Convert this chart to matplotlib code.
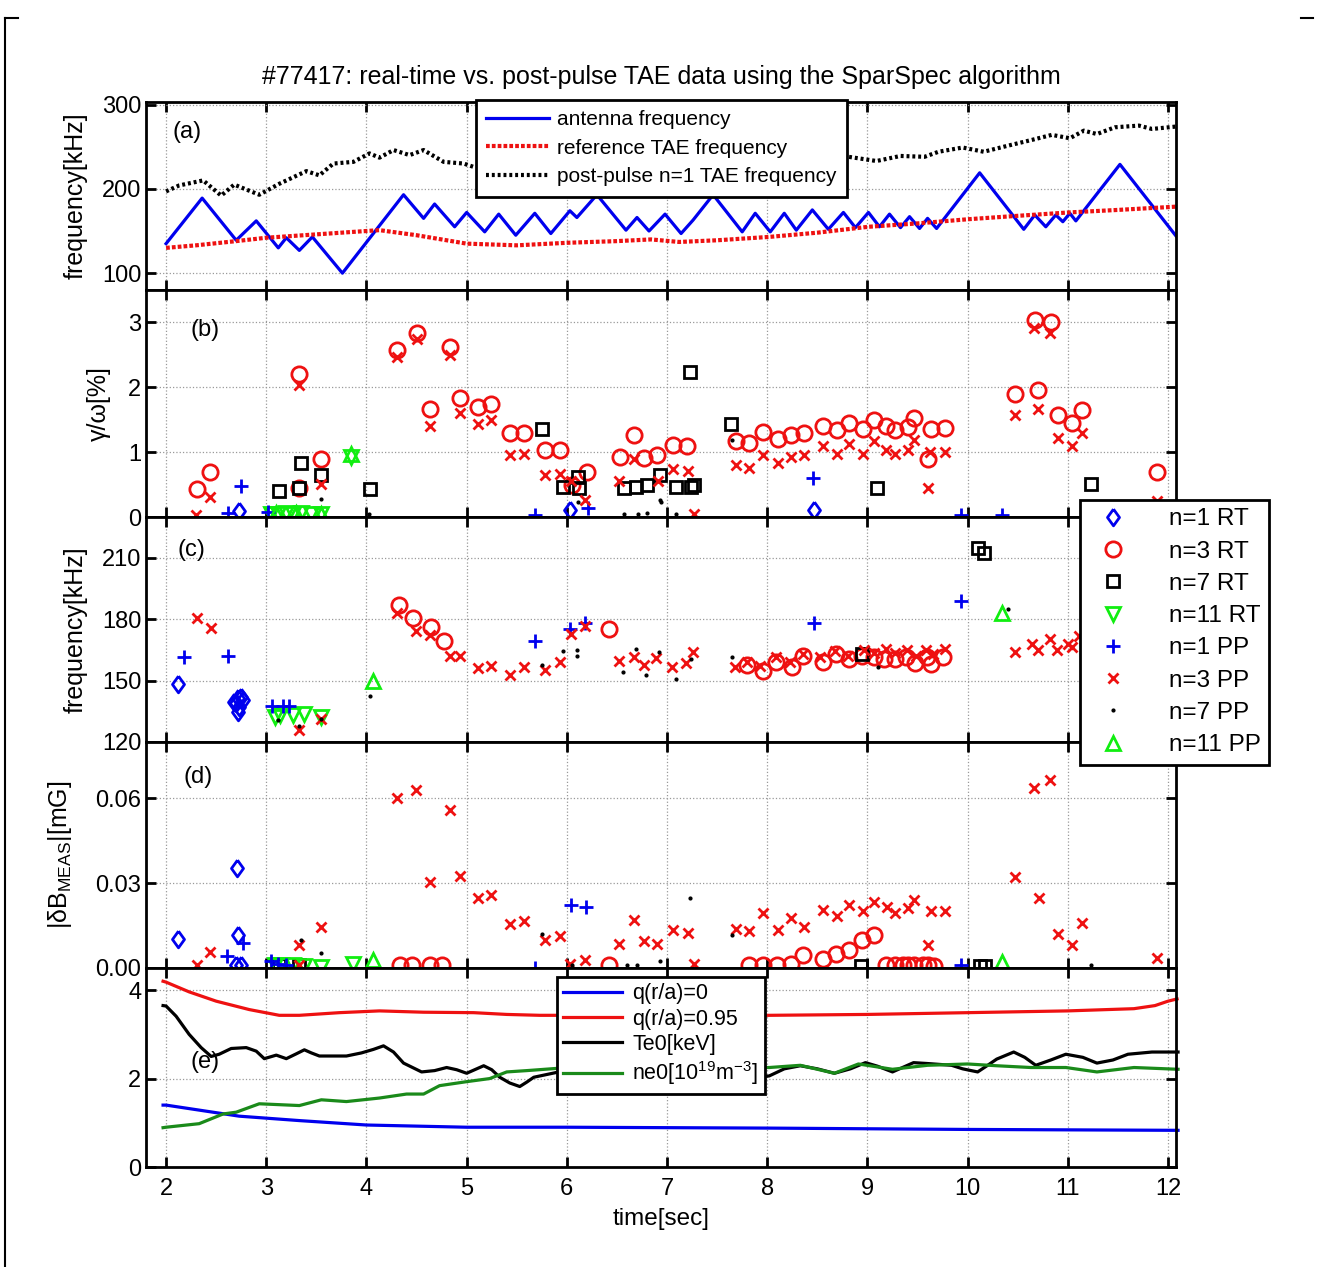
import matplotlib
matplotlib.use("Agg")
import matplotlib.pyplot as plt
from matplotlib.lines import Line2D

plt.rcParams["font.family"] = ["Liberation Sans", "DejaVu Sans"]
plt.rcParams["mathtext.fontset"] = "custom"
plt.rcParams["mathtext.rm"] = "Liberation Sans"
plt.rcParams["mathtext.it"] = "Liberation Sans:italic"

# ---------------- panel (a): frequencies [kHz] ----------------
ant_t = [2.0, 2.36, 2.70, 2.90, 3.12, 3.20, 3.33, 3.46, 3.76, 4.37, 4.57, 4.68, 4.88,
         5.0, 5.18, 5.32, 5.49, 5.68, 5.84, 6.03, 6.10, 6.30, 6.59, 6.70, 6.82, 6.98,
         7.14, 7.26, 7.46, 7.75, 7.88, 8.03, 8.17, 8.29, 8.45, 8.61, 8.76, 8.88, 9.01,
         9.12, 9.22, 9.33, 9.42, 9.52, 9.60, 9.69, 10.12, 10.56, 10.67, 10.78, 10.88,
         10.95, 11.02, 11.08, 11.52, 12.10]
ant_f = [135, 189, 139, 162, 130, 142, 127, 143, 100, 193, 165, 182, 155,
         172, 149, 170, 145, 171, 147, 174, 166, 193, 151, 166, 150, 170,
         147, 163, 193, 149, 171, 149, 171, 151, 175, 152, 172, 154, 172,
         155, 170, 154, 167, 153, 165, 153, 219, 152, 169, 155, 169,
         161, 171, 162, 229, 141]

ref_t = [2.0, 2.3, 2.7, 3.0, 3.5, 4.0, 4.13, 4.5, 5.0, 5.5, 6.0, 6.5, 6.84, 7.12,
         7.5, 8.02, 8.5, 9.01, 9.5, 10.01, 10.5, 11.01, 11.5, 12.1]
ref_f = [130, 133, 138, 142, 146, 150, 151, 145, 135, 133, 136, 138, 140, 137,
         139, 143, 148, 155, 159, 164, 168, 172, 175, 179]

pp_t = [2.0, 2.13, 2.37, 2.55, 2.68, 2.93, 3.13, 3.4, 3.53, 3.67, 3.87, 4.03, 4.13,
        4.27, 4.43, 4.57, 4.77, 4.97, 5.07, 5.5, 6.0, 6.5, 7.0, 7.5, 8.0, 8.5, 8.81,
        9.09, 9.33, 9.57, 9.71, 9.95, 10.16, 10.43, 10.64, 10.84, 11.02, 11.16, 11.29,
        11.47, 11.71, 11.84, 12.09]
pp_f = [197, 204, 210, 192, 205, 193, 206, 221, 216, 230, 232, 242, 237,
        246, 240, 246, 232, 230, 226, 228, 232, 234, 235, 236, 236, 237, 238,
        233, 239, 238, 244, 249, 244, 252, 258, 264, 260, 269, 265,
        273, 275, 271, 274]

# ---------------- panel (b): gamma/omega [%] ----------------
b_n1rt_t = [2.73, 6.03, 8.47]
b_n1rt_y = [0.09, 0.11, 0.11]
b_n3rt_t = [2.31, 2.44, 3.33, 3.33, 3.55, 4.30, 4.50, 4.63, 4.83, 4.93, 5.11, 5.24,
            5.43, 5.57, 5.78, 5.93, 6.05, 6.20, 6.53, 6.67, 6.77, 6.90, 7.06, 7.20,
            7.69, 7.82, 7.96, 8.11, 8.24, 8.37, 8.56, 8.70, 8.82, 8.96, 9.07, 9.19,
            9.27, 9.40, 9.46, 9.60, 9.63, 9.77, 10.47, 10.67, 10.70, 10.83, 10.90,
            11.04, 11.14, 11.89]
b_n3rt_y = [0.43, 0.70, 2.20, 0.45, 0.89, 2.58, 2.84, 1.67, 2.62, 1.84, 1.69, 1.75,
            1.30, 1.30, 1.03, 1.04, 0.50, 0.69, 0.93, 1.26, 0.91, 0.96, 1.11, 1.10,
            1.17, 1.14, 1.31, 1.21, 1.27, 1.29, 1.41, 1.34, 1.45, 1.35, 1.50, 1.40,
            1.34, 1.39, 1.53, 0.89, 1.36, 1.38, 1.89, 3.04, 1.96, 3.00, 1.57,
            1.45, 1.65, 0.70]
b_n7rt_t = [3.13, 3.35, 3.33, 3.55, 4.04, 5.75, 5.96, 6.11, 6.12, 6.57, 6.69, 6.80,
            6.93, 7.09, 7.23, 7.24, 7.27, 7.64, 9.10, 11.23]
b_n7rt_y = [0.40, 0.83, 0.45, 0.65, 0.44, 1.36, 0.46, 0.62, 0.45, 0.45, 0.47, 0.49,
            0.65, 0.46, 2.23, 0.46, 0.50, 1.44, 0.45, 0.51]
b_n11rt_t = [3.05, 3.12, 3.20, 3.27, 3.35, 3.45, 3.55, 3.85]
b_n11rt_y = [0.05, 0.05, 0.06, 0.05, 0.06, 0.05, 0.05, 0.93]
b_n1pp_t = [2.62, 2.75, 3.02, 5.68, 6.21, 8.46, 9.93, 10.34]
b_n1pp_y = [0.06, 0.48, 0.08, 0.03, 0.14, 0.60, 0.03, 0.03]
b_n3pp_t = [2.30, 2.44, 3.33, 3.55, 4.30, 4.50, 4.63, 4.83, 4.93, 5.11, 5.24, 5.43,
            5.57, 5.78, 5.93, 6.04, 6.18, 6.52, 6.67, 6.91, 7.06, 7.21, 7.27, 7.69,
            7.82, 7.96, 8.11, 8.24, 8.37, 8.56, 8.70, 8.82, 8.96, 9.07, 9.19, 9.27,
            9.40, 9.46, 9.60, 9.62, 9.77, 10.47, 10.66, 10.70, 10.82, 10.90, 11.04,
            11.14, 11.89]
b_n3pp_y = [0.03, 0.31, 2.03, 0.51, 2.46, 2.75, 1.40, 2.50, 1.61, 1.43, 1.49, 0.96,
            0.97, 0.65, 0.67, 0.55, 0.27, 0.56, 0.90, 0.55, 0.74, 0.71, 0.05, 0.81,
            0.76, 0.96, 0.83, 0.92, 0.95, 1.09, 0.97, 1.12, 0.97, 1.17, 1.03, 0.97,
            1.03, 1.19, 0.45, 1.00, 1.00, 1.58, 2.92, 1.67, 2.84, 1.22, 1.09,
            1.29, 0.24]
b_n7pp_t = [3.55, 4.03, 6.11, 6.57, 6.71, 6.80, 6.93, 6.94, 7.09, 7.65]
b_n7pp_y = [0.28, 0.05, 0.23, 0.04, 0.05, 0.06, 0.26, 0.23, 0.04, 1.19]
b_n11pp_t = [3.10, 3.30, 3.55, 3.85]
b_n11pp_y = [0.06, 0.06, 0.04, 0.97]

# ---------------- panel (c): frequency [kHz] ----------------
c_n1rt_t = [2.12, 2.68, 2.70, 2.72, 2.73, 2.75, 2.77, 2.72]
c_n1rt_y = [148.4, 139.5, 139.0, 141.4, 137.0, 141.9, 140.6, 134.6]
c_n3rt_t = [4.32, 4.46, 4.64, 4.77, 6.42, 7.80, 7.96, 8.09, 8.25, 8.36, 8.56, 8.69,
            8.82, 8.95, 9.07, 9.17, 9.27, 9.38, 9.47, 9.59, 9.63, 9.75]
c_n3rt_y = [186.8, 180.8, 176.3, 169.5, 175.1, 157.6, 154.9, 158.9, 156.8, 161.8,
            158.9, 163.0, 160.5, 162.0, 161.4, 160.5, 160.5, 161.4, 158.4, 161.4,
            158.1, 161.4]
c_n7rt_t = [8.95, 10.10, 10.16]
c_n7rt_y = [163.0, 214.9, 212.4]
c_n11rt_t = [3.09, 3.14, 3.27, 3.38, 3.55]
c_n11rt_y = [132.2, 133.3, 133.0, 133.8, 132.2]
c_n1pp_t = [2.18, 2.62, 3.06, 3.17, 3.23, 5.68, 6.03, 6.18, 8.47, 9.93]
c_n1pp_y = [161.7, 161.8, 137.8, 137.5, 137.8, 169.5, 175.0, 178.0, 178.0, 188.9]
c_n3pp_t = [2.31, 2.45, 3.33, 3.55, 4.30, 4.49, 4.63, 4.83, 4.93, 5.11, 5.24, 5.43,
            5.57, 5.78, 5.93, 6.04, 6.18, 6.52, 6.67, 6.77, 6.89, 7.05, 7.19, 7.26,
            7.68, 7.80, 7.93, 8.09, 8.23, 8.36, 8.53, 8.68, 8.81, 8.97, 9.07, 9.19,
            9.27, 9.39, 9.48, 9.58, 9.65, 9.77, 10.47, 10.64, 10.70, 10.82, 10.89,
            11.00, 11.04, 11.11]
c_n3pp_y = [180.8, 175.5, 125.7, 131.4, 182.9, 174.3, 172.2, 161.8, 161.8, 156.0,
            157.3, 152.8, 156.5, 155.4, 158.9, 172.7, 176.8, 159.4, 161.4, 157.8,
            160.9, 156.8, 158.4, 163.8, 156.5, 158.9, 157.3, 161.4, 158.9, 163.0,
            161.4, 164.6, 162.2, 164.9, 163.3, 165.4, 163.3, 164.9, 162.2, 164.9,
            163.0, 165.4, 164.1, 167.8, 164.9, 170.3, 164.9, 167.8, 166.2, 171.9]
c_n7pp_t = [3.12, 3.33, 3.55, 4.04, 5.75, 5.96, 6.10, 6.10, 6.56, 6.69, 6.79, 6.92,
            7.09, 7.24, 7.65, 9.11, 10.40]
c_n7pp_y = [130.5, 128.0, 131.0, 142.7, 157.6, 164.6, 165.0, 162.0, 154.0, 165.4,
            152.9, 163.8, 150.8, 160.5, 161.4, 156.5, 184.9]
c_n11pp_t = [4.07, 10.34]
c_n11pp_y = [150.0, 183.2]

# ---------------- panel (d): |dB_MEAS| [mG] ----------------
d_n1rt_t = [2.12, 2.71, 2.72, 2.70, 2.75]
d_n1rt_y = [0.0104, 0.0354, 0.0115, 0.0012, 0.0012]
d_n3rt_t = [4.33, 4.45, 4.63, 4.75, 6.42, 7.82, 7.96, 8.10, 8.24, 8.36, 8.56, 8.69,
            8.82, 8.95, 9.07, 9.19, 9.27, 9.35, 9.40, 9.46, 9.55, 9.60, 9.66]
d_n3rt_y = [0.001, 0.001, 0.001, 0.001, 0.001, 0.001, 0.001, 0.001, 0.0014, 0.0047,
            0.0033, 0.005, 0.0065, 0.010, 0.0118, 0.0012, 0.0012, 0.0012, 0.0012,
            0.0012, 0.0012, 0.0012, 0.0008]
d_n7rt_t = [3.13, 3.33, 8.94, 10.12, 10.17]
d_n7rt_y = [0.001, 0.001, 0.0008, 0.0008, 0.0008]
d_n11rt_t = [3.09, 3.15, 3.27, 3.38, 3.55, 3.87]
d_n11rt_y = [0.001, 0.0012, 0.001, 0.0008, 0.0005, 0.0014]
d_n1pp_t = [2.61, 2.77, 3.05, 3.12, 3.20, 5.68, 6.04, 6.19, 9.93]
d_n1pp_y = [0.0041, 0.0089, 0.0024, 0.0015, 0.001, 0.0, 0.0224, 0.0216, 0.001]
d_n3pp_t = [2.31, 2.44, 3.33, 3.33, 3.55, 4.30, 4.49, 4.63, 4.83, 4.93, 5.11, 5.24,
            5.43, 5.57, 5.78, 5.93, 6.03, 6.18, 6.52, 6.67, 6.77, 6.90, 7.06, 7.21,
            7.27, 7.69, 7.82, 7.96, 8.11, 8.24, 8.37, 8.56, 8.70, 8.82, 8.96, 9.07,
            9.20, 9.27, 9.40, 9.46, 9.60, 9.63, 9.77, 10.47, 10.66, 10.71, 10.82,
            10.90, 11.04, 11.14, 11.89]
d_n3pp_y = [0.0012, 0.0057, 0.008, 0.001, 0.0144, 0.0602, 0.063, 0.0305, 0.0559,
            0.0325, 0.0246, 0.0257, 0.0154, 0.0168, 0.0098, 0.0112, 0.0014, 0.003,
            0.0086, 0.0171, 0.0097, 0.0085, 0.0136, 0.0124, 0.0014, 0.0138, 0.0132,
            0.0193, 0.0136, 0.0177, 0.0144, 0.0204, 0.0183, 0.0222, 0.0201, 0.0233,
            0.0216, 0.0193, 0.0213, 0.0242, 0.0083, 0.0201, 0.0201, 0.0322, 0.0638,
            0.0248, 0.0667, 0.0122, 0.008, 0.0159, 0.0035]
d_n7pp_t = [3.35, 3.55, 5.75, 6.05, 6.60, 6.70, 6.93, 7.23, 7.65, 11.23]
d_n7pp_y = [0.0098, 0.0053, 0.012, 0.001, 0.001, 0.001, 0.0024, 0.0246, 0.0116, 0.001]
d_n11pp_t = [4.07, 10.34]
d_n11pp_y = [0.003, 0.002]

# ---------------- panel (e): profiles ----------------
q0_t = [1.97, 2.0, 2.73, 3.33, 4.0, 5.0, 6.0, 8.02, 10.0, 12.1]
q0_v = [1.40, 1.40, 1.15, 1.05, 0.95, 0.90, 0.90, 0.88, 0.85, 0.83]
q95_t = [1.97, 2.0, 2.23, 2.5, 2.83, 3.13, 3.33, 3.73, 4.13, 4.57, 5.07, 5.4, 5.73,
         8.02, 9.0, 10.0, 11.0, 11.66, 11.87, 12.0, 12.09]
q95_v = [4.20, 4.18, 3.96, 3.75, 3.56, 3.43, 3.43, 3.49, 3.53, 3.50, 3.49, 3.45, 3.43,
         3.43, 3.45, 3.49, 3.53, 3.58, 3.65, 3.75, 3.80]
te_t = [1.97, 2.0, 2.1, 2.23, 2.35, 2.45, 2.53, 2.65, 2.8, 2.9, 2.98, 3.1, 3.2, 3.3,
        3.38, 3.45, 3.53, 3.8, 3.95, 4.07, 4.17, 4.27, 4.37, 4.55, 4.68, 4.8, 4.9,
        5.0, 5.1, 5.17, 5.25, 5.33, 5.43, 5.53, 5.6, 5.67, 5.9, 6.3, 6.7,
        7.1, 7.5, 7.8, 8.02, 8.17, 8.33, 8.5, 8.67, 8.83, 8.98, 9.1, 9.25, 9.35, 9.46,
        9.6, 9.84, 9.95, 10.1, 10.2, 10.29, 10.46, 10.57, 10.68, 10.83, 10.98, 11.15,
        11.29, 11.45, 11.6, 11.84, 12.1]
te_v = [3.65, 3.64, 3.41, 3.0, 2.70, 2.50, 2.55, 2.68, 2.70, 2.62, 2.45, 2.53, 2.45,
        2.56, 2.65, 2.58, 2.51, 2.51, 2.58, 2.66, 2.74, 2.60, 2.35, 2.15, 2.18, 2.25,
        2.20, 2.12, 2.22, 2.29, 2.20, 2.03, 1.90, 1.82, 1.92, 2.03, 2.14, 2.25, 2.2,
        2.15, 2.1, 2.0, 2.06, 2.22, 2.29, 2.22, 2.12, 2.22, 2.36, 2.28, 2.15, 2.25,
        2.36, 2.34, 2.30, 2.22, 2.15, 2.30, 2.44, 2.60, 2.48, 2.30, 2.42, 2.55, 2.48,
        2.35, 2.42, 2.55, 2.60, 2.60]
ne_t = [1.97, 2.0, 2.33, 2.57, 2.7, 2.93, 3.33, 3.55, 3.8, 4.13, 4.4, 4.57, 4.73, 5.0,
        5.23, 5.4, 5.6, 5.9, 6.5, 7.0, 7.5, 8.02, 8.33, 8.67, 8.91, 9.25, 9.6, 10.0,
        10.29, 10.63, 10.98, 11.29, 11.66, 12.1]
ne_v = [0.89, 0.90, 0.98, 1.20, 1.24, 1.43, 1.39, 1.52, 1.48, 1.56, 1.65, 1.65, 1.84,
        1.93, 2.0, 2.15, 2.18, 2.23, 2.25, 2.24, 2.25, 2.25, 2.30, 2.12, 2.33, 2.21,
        2.30, 2.33, 2.29, 2.25, 2.25, 2.15, 2.25, 2.21]

xticks = [2, 3, 4, 5, 6, 7, 8, 9, 10, 11, 12]

# ---------------- figure ----------------
fig = plt.figure(figsize=(13.18, 12.67), dpi=100)
left, width = 0.1108, 0.7815
ax_a = fig.add_axes([left, 0.7711, width, 0.1484])
ax_b = fig.add_axes([left, 0.5919, width, 0.1792])
ax_c = fig.add_axes([left, 0.4144, width, 0.1776])
ax_d = fig.add_axes([left, 0.2360, width, 0.1784])
ax_e = fig.add_axes([left, 0.0789, width, 0.1571])
axes = [ax_a, ax_b, ax_c, ax_d, ax_e]

for ax in axes:
    ax.set_xlim(1.8, 12.08)
    ax.set_xticks(xticks)
    ax.grid(True, color="#999999", linestyle=":", linewidth=0.9)
    ax.tick_params(direction="in", top=True, right=True, length=7, width=2,
                   labelsize=17)
    ax.tick_params(axis="x", pad=8)
    for sp in ax.spines.values():
        sp.set_linewidth(2)
    if ax is not ax_e:
        ax.tick_params(labelbottom=False)

# (a)
ax_a.plot(ant_t, ant_f, color="#0000ee", lw=2.3, label="antenna frequency")
ax_a.plot(ref_t, ref_f, color="#ee1111", lw=3, dashes=(0.9, 0.5),
          label="reference TAE frequency")
ax_a.plot(pp_t, pp_f, color="black", lw=3, dashes=(0.7, 0.7),
          label="post-pulse n=1 TAE frequency")
ax_a.set_ylim(80, 303)
ax_a.set_yticks([100, 200, 300])
ax_a.set_ylabel("frequency[kHz]", fontsize=18)
ax_a.set_title("#77417: real-time vs. post-pulse TAE data using the SparSpec algorithm",
               fontsize=18, pad=13)
leg_a = ax_a.legend(loc="upper left", bbox_to_anchor=(0.32, 1.011), fontsize=15,
                    frameon=True, fancybox=False, edgecolor="black", framealpha=1,
                    handlelength=3.0, borderpad=0.5, labelspacing=0.45,
                    handletextpad=0.4, borderaxespad=0)
leg_a.get_frame().set_linewidth(2)

# marker styles for scatter series
diamond = [(0, 1), (0.72, 0), (0, -1), (-0.72, 0), (0, 1)]
sty = {
    "n=1 RT": dict(marker=diamond, color="#0000ee", ms=12, mfc="none", mew=2),
    "n=3 RT": dict(marker="o", color="#ee1111", ms=11, mfc="none", mew=2),
    "n=7 RT": dict(marker="s", color="black", ms=8, mfc="none", mew=2),
    "n=11 RT": dict(marker="v", color="#11ee11", ms=10, mfc="none", mew=2),
    "n=1 PP": dict(marker="+", color="#0000ee", ms=10, mew=2),
    "n=3 PP": dict(marker="x", color="#ee1111", ms=7, mew=2),
    "n=7 PP": dict(marker=".", color="black", ms=4),
    "n=11 PP": dict(marker="^", color="#11ee11", ms=10, mfc="none", mew=2),
}


def scatter_panel(ax, series):
    for name, (tt, yy) in series.items():
        ax.plot(tt, yy, ls="none", label=name, clip_on=False, **sty[name])


scatter_panel(ax_b, {"n=1 RT": (b_n1rt_t, b_n1rt_y), "n=3 RT": (b_n3rt_t, b_n3rt_y),
                     "n=7 RT": (b_n7rt_t, b_n7rt_y), "n=11 RT": (b_n11rt_t, b_n11rt_y),
                     "n=1 PP": (b_n1pp_t, b_n1pp_y), "n=3 PP": (b_n3pp_t, b_n3pp_y),
                     "n=7 PP": (b_n7pp_t, b_n7pp_y), "n=11 PP": (b_n11pp_t, b_n11pp_y)})
ax_b.set_ylim(0, 3.5)
ax_b.set_yticks([0, 1, 2, 3])
ax_b.set_ylabel("γ/ω[%]", fontsize=18)

scatter_panel(ax_c, {"n=1 RT": (c_n1rt_t, c_n1rt_y), "n=3 RT": (c_n3rt_t, c_n3rt_y),
                     "n=7 RT": (c_n7rt_t, c_n7rt_y), "n=11 RT": (c_n11rt_t, c_n11rt_y),
                     "n=1 PP": (c_n1pp_t, c_n1pp_y), "n=3 PP": (c_n3pp_t, c_n3pp_y),
                     "n=7 PP": (c_n7pp_t, c_n7pp_y), "n=11 PP": (c_n11pp_t, c_n11pp_y)})
ax_c.set_ylim(120, 230)
ax_c.set_yticks([120, 150, 180, 210])
ax_c.set_ylabel("frequency[kHz]", fontsize=18)

scatter_panel(ax_d, {"n=1 RT": (d_n1rt_t, d_n1rt_y), "n=3 RT": (d_n3rt_t, d_n3rt_y),
                     "n=7 RT": (d_n7rt_t, d_n7rt_y), "n=11 RT": (d_n11rt_t, d_n11rt_y),
                     "n=1 PP": (d_n1pp_t, d_n1pp_y), "n=3 PP": (d_n3pp_t, d_n3pp_y),
                     "n=7 PP": (d_n7pp_t, d_n7pp_y), "n=11 PP": (d_n11pp_t, d_n11pp_y)})
ax_d.set_ylim(0, 0.08)
ax_d.set_yticks([0.0, 0.03, 0.06])
ax_d.set_yticklabels(["0.00", "0.03", "0.06"])
ax_d.set_ylabel(r"|δB$_{\mathrm{MEAS}}$|[mG]", fontsize=18)

# legend for the scatter series
h, l = ax_b.get_legend_handles_labels()
leg_b = fig.legend(h, l, loc="upper left", bbox_to_anchor=(0.8194, 0.6054), fontsize=17.5,
                   frameon=True, fancybox=False, edgecolor="black", framealpha=1,
                   borderpad=0.35, labelspacing=0.42, handletextpad=1.3,
                   handlelength=2.0, borderaxespad=0)
leg_b.get_frame().set_linewidth(2)

# (e)
ax_e.plot(q0_t, q0_v, color="#0000ee", lw=2.3, label="q(r/a)=0", clip_on=False)
ax_e.plot(q95_t, q95_v, color="#ee1111", lw=2.3, label="q(r/a)=0.95", clip_on=False)
ax_e.plot(te_t, te_v, color="black", lw=2.3, label="Te0[keV]", clip_on=False)
ax_e.plot(ne_t, ne_v, color="#1a8a1a", lw=2.3,
          label=r"ne0[10$^{19}$m$^{-3}$]", clip_on=False)
ax_e.set_ylim(0, 4.5)
ax_e.set_yticks([0, 2, 4])
ax_e.set_xlabel("time[sec]", fontsize=17.5, labelpad=6)
leg_e = ax_e.legend(loc="upper left", bbox_to_anchor=(0.399, 0.955), fontsize=15.5,
                    frameon=True, fancybox=False, edgecolor="black", framealpha=1,
                    handlelength=2.7, borderpad=0.3, labelspacing=0.2,
                    handletextpad=0.5, borderaxespad=0)
leg_e.get_frame().set_linewidth(2)

# panel tags
for ax, tag, xy in [(ax_a, "(a)", (0.026, 0.84)), (ax_b, "(b)", (0.043, 0.824)),
                    (ax_c, "(c)", (0.031, 0.853)), (ax_d, "(d)", (0.036, 0.845)),
                    (ax_e, "(e)", (0.043, 0.528))]:
    ax.text(xy[0], xy[1], tag, transform=ax.transAxes, fontsize=17, va="center")

ax_a.yaxis.set_label_coords(-0.057, 0.5)
ax_b.yaxis.set_label_coords(-0.034, 0.5)
ax_c.yaxis.set_label_coords(-0.057, 0.5)
ax_d.yaxis.set_label_coords(-0.07, 0.5)

# page frame fragments
fig.add_artist(Line2D([0.0038, 0.0038], [0.0, 0.986], color="black", lw=1.5))
fig.add_artist(Line2D([0.0038, 0.0137], [0.986, 0.986], color="black", lw=1.5))
fig.add_artist(Line2D([0.987, 0.996], [0.986, 0.986], color="black", lw=1.5))

fig.savefig("out.png", dpi=100)
